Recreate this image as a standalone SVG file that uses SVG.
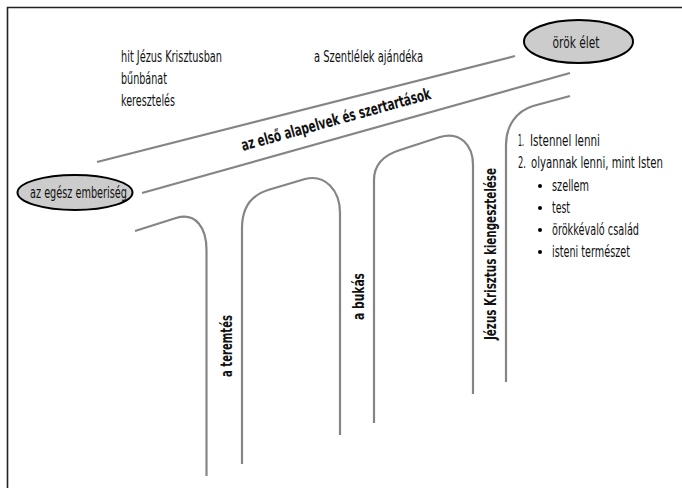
<svg xmlns="http://www.w3.org/2000/svg" width="682" height="488" viewBox="0 0 682 488">
<style>
.t{font-family:"Liberation Sans Narrow","DejaVu Sans Condensed","Liberation Sans",sans-serif;font-size:15px;fill:#111}
.b{font-weight:bold}
.ln{fill:none;stroke:#858585;stroke-width:2.2}
.el{fill:#cccccc;stroke:#000;stroke-width:2}
</style>
<rect width="682" height="488" fill="#fff"/>
<path d="M7.5,488 V7.5 H682" fill="none" stroke="#222" stroke-width="1.6"/>
<g id="connectors">
<path class="ln" d="M97,162 L515,56"/>
<path class="ln" d="M142,193 L570,73"/>
<path class="ln" d="M135,231 L176,218 C196,212 206.5,228 206.5,250 V476"/>
<path class="ln" d="M242,464 V228 C242,206 252,195 268,190 L305,179 C325,174 340,190 340,213 V435"/>
<path class="ln" d="M374,423 V180 C374,165 384,155 400,150 L440,137 C460,131 473,145 473,165 V394"/>
<path class="ln" d="M570,96 L533,106 C517,111 506,125 506,145 V382"/>
</g>
<g id="orok-elet">
<ellipse class="el" cx="578.5" cy="41.5" rx="54.5" ry="21.5"/>
<text class="t" x="576" y="48" text-anchor="middle" textLength="47" lengthAdjust="spacingAndGlyphs">örök élet</text>
</g>
<g id="emberiseg">
<ellipse class="el" cx="75" cy="192.5" rx="57.5" ry="17.5"/>
<text class="t" x="78.5" y="197.5" text-anchor="middle" textLength="97" lengthAdjust="spacingAndGlyphs">az egész emberiség</text>
</g>
<g id="labels-left">
<text class="t" x="121" y="62" textLength="101" lengthAdjust="spacingAndGlyphs">hit Jézus Krisztusban</text>
<text class="t" x="121" y="84" textLength="46" lengthAdjust="spacingAndGlyphs">bűnbánat</text>
<text class="t" x="121" y="106" textLength="54" lengthAdjust="spacingAndGlyphs">keresztelés</text>
</g>
<g id="szentlelek">
<text class="t" x="314" y="62" textLength="109" lengthAdjust="spacingAndGlyphs">a Szentlélek ajándéka</text>
</g>
<g id="alapelvek">
<text class="t b" x="336" y="125" text-anchor="middle" textLength="196" lengthAdjust="spacingAndGlyphs" transform="rotate(-15.5 336 120)" style="font-size:16px">az első alapelvek és szertartások</text>
</g>
<g id="teremtes">
<text class="t b" transform="translate(232,346) rotate(-90)" text-anchor="middle" textLength="62" lengthAdjust="spacingAndGlyphs" style="font-size:16px">a teremtés</text>
</g>
<g id="bukas">
<text class="t b" transform="translate(364,296.5) rotate(-90)" text-anchor="middle" textLength="47" lengthAdjust="spacingAndGlyphs" style="font-size:16px">a bukás</text>
</g>
<g id="kiengesztelese">
<text class="t b" transform="translate(496,254) rotate(-90)" text-anchor="middle" textLength="172" lengthAdjust="spacingAndGlyphs" style="font-size:16px">Jézus Krisztus kiengesztelése</text>
</g>
<g id="list">
<text class="t" x="518" y="146" textLength="6" lengthAdjust="spacingAndGlyphs">1.</text>
<text class="t" x="530" y="146" textLength="70" lengthAdjust="spacingAndGlyphs">Istennel lenni</text>
<text class="t" x="518" y="168" textLength="8" lengthAdjust="spacingAndGlyphs">2.</text>
<text class="t" x="531" y="168" textLength="132" lengthAdjust="spacingAndGlyphs">olyannak lenni, mint Isten</text>
<circle cx="540" cy="186" r="2"/>
<text class="t" x="552" y="191" textLength="37" lengthAdjust="spacingAndGlyphs">szellem</text>
<circle cx="540" cy="208" r="2"/>
<text class="t" x="552" y="213" textLength="18" lengthAdjust="spacingAndGlyphs">test</text>
<circle cx="540" cy="230" r="2"/>
<text class="t" x="552" y="235" textLength="87" lengthAdjust="spacingAndGlyphs">örökkévaló család</text>
<circle cx="540" cy="252" r="2"/>
<text class="t" x="552" y="257" textLength="78" lengthAdjust="spacingAndGlyphs">isteni természet</text>
</g>
</svg>
